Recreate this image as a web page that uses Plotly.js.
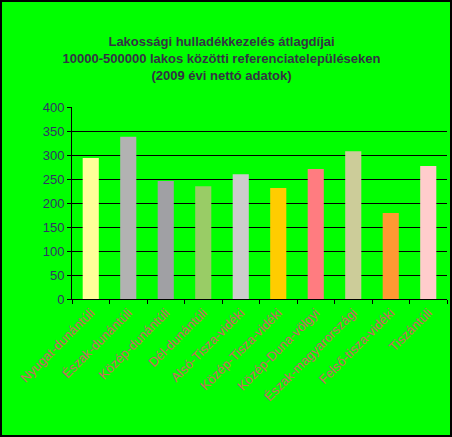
<!DOCTYPE html>
<html>
<head>
<meta charset="utf-8">
<script src="https://cdn.plot.ly/plotly-3.0.1.min.js"></script>
<style>
  body { margin: 0; background: #ffffff; }
  #chart { width: 452px; height: 437px; box-sizing: border-box; border: 2px solid #000; background: #00ff00; }
</style>
</head>
<body>
<div id="chart"></div>
<script>
var regions = ['Nyugat-dunántúli', 'Észak-dunántúli', 'Közép-dunántúli', 'Dél-dunántúli',
  'Alsó-Tisza-vidéki', 'Közép-Tisza-vidéki', 'Közép-Duna-völgyi', 'Észak-magyarországi',
  'Felső-tisza-vidéki', 'Tiszántúli'];
var fees = [294, 338, 246, 235, 260, 231, 271, 308, 179, 277];
var barColors = ['#ffff99', '#b2b2b2', '#a0a0a4', '#99cc66', '#cccccc',
  '#ffcc00', '#ff7c80', '#cccc99', '#ff9933', '#ffcccc'];

var trace = {
  x: regions,
  y: fees,
  type: 'bar',
  marker: { color: barColors, line: { width: 0 } },
  hoverinfo: 'x+y'
};

var layout = {
  width: 448,
  height: 433,
  paper_bgcolor: '#00ff00',
  plot_bgcolor: '#00ff00',
  margin: { l: 70, r: 3, t: 105, b: 136 },
  bargap: 0.57,
  showlegend: false,
  font: { family: 'Liberation Sans, Arial, sans-serif', size: 12, color: '#333366' },
  title: {
    text: '<b>Lakossági hulladékkezelés átlagdíjai<br>10000-500000 lakos közötti referenciatelepüléseken<br>(2009 évi nettó adatok)</b>',
    font: { size: 13, color: '#333344' },
    x: 0.49, xanchor: 'center',
    y: 0.898, yanchor: 'top', yref: 'container'
  },
  xaxis: {
    type: 'category',
    tickangle: -45,
    tickfont: { size: 13, color: '#cc6666' },
    ticks: 'outside',
    tickson: 'boundaries',
    ticklen: 4,
    tickcolor: '#000',
    showline: true,
    linecolor: '#000',
    linewidth: 1,
    showgrid: false
  },
  yaxis: {
    range: [0, 400],
    dtick: 50,
    tickfont: { size: 13, color: '#333366' },
    ticks: 'outside',
    ticklen: 4,
    tickcolor: '#000',
    showline: true,
    linecolor: '#000',
    gridcolor: '#000',
    gridwidth: 1,
    zeroline: false
  }
};

Plotly.newPlot('chart', [trace], layout, { displayModeBar: false, staticPlot: true });
</script>
</body>
</html>
